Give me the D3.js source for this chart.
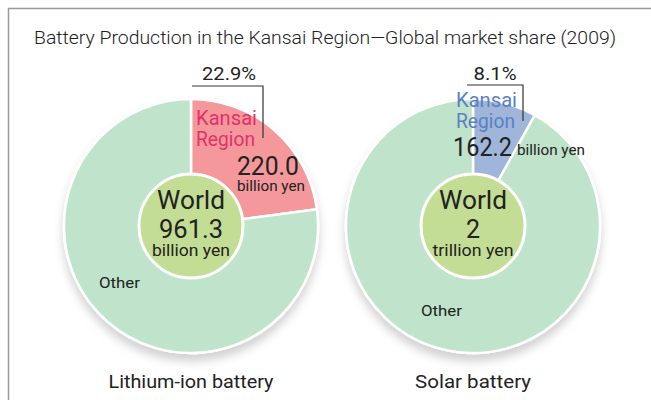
<!DOCTYPE html>
<html>
<head>
<meta charset="utf-8">
<script src="https://cdn.jsdelivr.net/npm/d3@7"></script>
<style>
  body { margin: 0; background: #fff; }
  svg { display: block; font-family: Roboto, "Liberation Sans", sans-serif; }
</style>
</head>
<body>
<svg id="chart" width="651" height="400"></svg>
<script>
// chart data
var title = "Battery Production in the Kansai Region\u2014Global market share (2009)";
var charts = ["Lithium-ion battery", "Solar battery"];
var kansaiShare = [22.9, 8.1];          // percent of world
var kansaiValue = ["220.0", "162.2"];
var kansaiUnit = ["billion yen", "billion yen"];
var worldTotal = ["961.3", "2"];
var worldUnit = ["billion yen", "trillion yen"];
var sliceNames = ["Kansai Region", "Other"];

var sliceColor = {
  kansai: ["#f4989c", "#9fb6da"],
  other: "#bfe3cb"
};
var kansaiText = ["#e5306a", "#5b80c2"];

var svg = d3.select("#chart");

// frame
svg.append("path")
  .attr("d", "M8.5,400 V8.5 H651")
  .attr("fill", "none")
  .attr("stroke", "#9a9a9a")
  .attr("stroke-width", 1.5);

svg.append("text")
  .attr("x", 325).attr("y", 44)
  .attr("text-anchor", "middle")
  .attr("font-size", 19)
  .attr("font-weight", 300)
  .attr("fill", "#222")
  .attr("textLength", 582)
  .attr("lengthAdjust", "spacingAndGlyphs")
  .text(title);

// shadow under the pies
var defs = svg.append("defs");
var f = defs.append("filter").attr("id", "shadow")
  .attr("x", "-20%").attr("y", "-20%").attr("width", "140%").attr("height", "150%");
f.append("feDropShadow")
  .attr("dx", 0).attr("dy", 7).attr("stdDeviation", 5)
  .attr("flood-color", "#000").attr("flood-opacity", 0.18);

var cx = d3.scalePoint().domain(charts).range([191, 473]);
var cy = 226;
var R = 127;

var pie = d3.pie().sort(null).value(function(d) { return d; });
var arc = d3.arc().innerRadius(0).outerRadius(R);

// per chart label placement (offsets from centre)
var layout = [
  { kansai: [5, -101], valueX: 46, valueY: -51, unitX: 46, unitY: -35,
    other: [-92, 62], pct: [38, -146], line: [[1, -140], [72, -140], [72, -88]] },
  { kansai: [-17, -119], valueX: -20, valueY: -70, unitX: 44, unitY: -71,
    other: [-52, 90], pct: [22, -146], line: [[-6, -141], [50, -141], [50, -105]] }
];

charts.forEach(function(name, i) {
  var g = svg.append("g")
    .attr("transform", "translate(" + cx(name) + "," + cy + ")");
  var L = layout[i];

  var slices = pie([kansaiShare[i], 100 - kansaiShare[i]]);

  var pg = g.append("g").attr("filter", "url(#shadow)");
  pg.append("circle").attr("r", R + 1).attr("fill", "#fff");
  pg.selectAll("path")
    .data(slices)
    .enter().append("path")
      .attr("d", arc)
      .attr("fill", function(d, j) { return j === 0 ? sliceColor.kansai[i] : sliceColor.other; })
      .attr("stroke", "#fff")
      .attr("stroke-width", 2.5)
      .attr("stroke-linejoin", "round");

  // centre disc
  g.append("circle")
    .attr("r", 52)
    .attr("fill", "#c3dd95")
    .attr("stroke", "#fff")
    .attr("stroke-width", 3);

  g.append("text").attr("y", -17).attr("text-anchor", "middle")
    .attr("font-size", 26).attr("fill", "#222")
    .attr("textLength", 68).attr("lengthAdjust", "spacingAndGlyphs")
    .text("World");
  var tot = g.append("text").attr("y", 12).attr("text-anchor", "middle")
    .attr("font-size", 25).attr("fill", "#222")
    .text(worldTotal[i]);
  if (worldTotal[i].length > 2) tot.attr("textLength", 64).attr("lengthAdjust", "spacingAndGlyphs");
  g.append("text").attr("y", 30).attr("text-anchor", "middle")
    .attr("font-size", 17).attr("fill", "#222")
    .attr("textLength", i === 0 ? 78 : 81).attr("lengthAdjust", "spacingAndGlyphs")
    .text(worldUnit[i]);

  // Kansai label
  var words = sliceNames[0].split(" ");
  g.selectAll(".kansai")
    .data(words)
    .enter().append("text")
      .attr("class", "kansai")
      .attr("x", L.kansai[0])
      .attr("y", function(d, j) { return L.kansai[1] + j * 21; })
      .attr("font-size", 20)
      .attr("fill", kansaiText[i])
      .attr("textLength", function(d) { return d === "Kansai" ? 61 : 59; })
      .attr("lengthAdjust", "spacingAndGlyphs")
      .text(function(d) { return d; });

  g.append("text").attr("x", L.valueX).attr("y", L.valueY)
    .attr("font-size", 25).attr("fill", "#222")
    .attr("textLength", i === 0 ? 62 : 59).attr("lengthAdjust", "spacingAndGlyphs")
    .text(kansaiValue[i]);
  g.append("text").attr("x", L.unitX).attr("y", L.unitY)
    .attr("font-size", 14).attr("fill", "#222")
    .attr("textLength", 68).attr("lengthAdjust", "spacingAndGlyphs")
    .text(kansaiUnit[i]);

  g.append("text").attr("x", L.other[0]).attr("y", L.other[1])
    .attr("font-size", 15).attr("fill", "#222")
    .attr("textLength", 41).attr("lengthAdjust", "spacingAndGlyphs")
    .text(sliceNames[1]);

  // percent callout
  g.append("text").attr("x", L.pct[0]).attr("y", L.pct[1])
    .attr("text-anchor", "middle")
    .attr("font-size", 18).attr("fill", "#222")
    .attr("textLength", i === 0 ? 54 : 43).attr("lengthAdjust", "spacingAndGlyphs")
    .text(kansaiShare[i].toFixed(1) + "%");
  g.append("path")
    .attr("d", d3.line()(L.line))
    .attr("fill", "none")
    .attr("stroke", "#333")
    .attr("stroke-width", 1.2);

  // chart name
  svg.append("text")
    .attr("x", cx(name)).attr("y", 388)
    .attr("text-anchor", "middle")
    .attr("font-size", 18).attr("fill", "#222")
    .attr("textLength", i === 0 ? 165 : 116).attr("lengthAdjust", "spacingAndGlyphs")
    .text(name);
});
</script>
</body>
</html>
